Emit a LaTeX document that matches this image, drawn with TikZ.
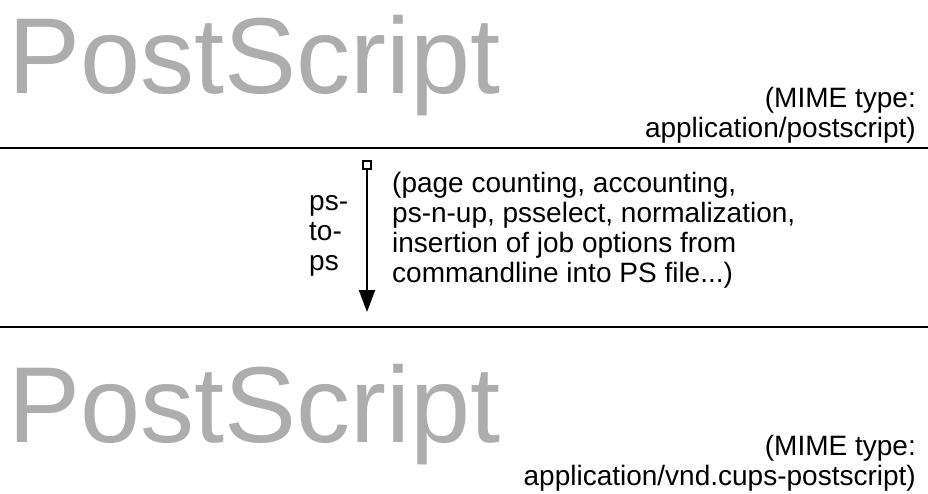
\documentclass[tikz,border=0pt]{standalone}
\usepackage{fontspec}
\setmainfont{Liberation Sans}
\usetikzlibrary{arrows.meta}

\begin{document}
\begin{tikzpicture}[x=1pt,y=-1pt]

\tikzset{bigword/.style = {anchor=base west, inner sep=0, text=black!32, font=\fontsize{108}{108}\selectfont}}
\tikzset{mime/.style = {anchor=base east, inner sep=0, align=right, font=\fontsize{28}{30}\selectfont}}
\tikzset{note/.style = {inner sep=0, align=left, font=\fontsize{28}{30}\selectfont}}
\tikzset{edge/.style = {-{Triangle[length=22pt,width=16pt]}, line width=2pt}}
\useasboundingbox (0,0) rectangle (928,493);
%formats
\node[bigword] (ps1) at (8,93) {PostScript};
\node[mime] (mime1) at (916,137) {(MIME type:\\application/postscript)};
\node[bigword] (ps2) at (8,442) {PostScript};
\node[mime] (mime2) at (916,485) {(MIME type:\\application/vnd.cups-postscript)};
%separators
\draw [line width=2pt] (0,148) -- (928,148);
\draw [line width=2pt] (0,327) -- (928,327);
%filter
\node[draw, line width=1.5pt, inner sep=0, minimum size=8pt] (start) at (367,165) {};
\coordinate (end) at (367,312);
\draw [edge] (start) -- (end);
\node[note, anchor=west] (name) at (309,236) {ps-\\to-\\ps};
\node[note, anchor=west] (tasks) at (392,230) {(page counting, accounting,\\ps-n-up, psselect, normalization,\\insertion of job options from\\commandline into PS file...)};

\end{tikzpicture}
\end{document}
